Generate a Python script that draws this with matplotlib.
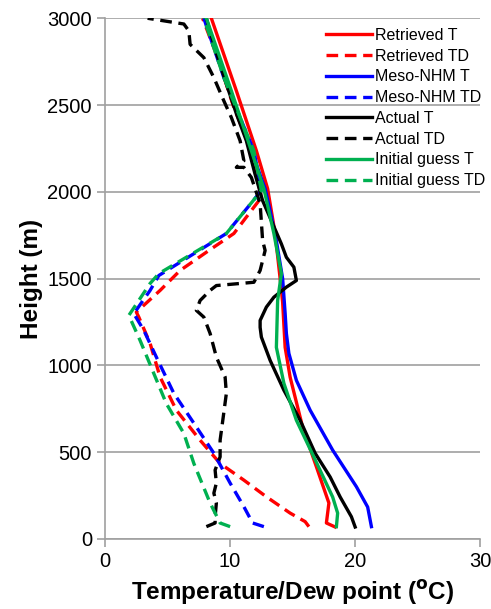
import matplotlib
matplotlib.use("Agg")
import matplotlib.pyplot as plt
import numpy as np

plt.rcParams['font.family'] = ['Liberation Sans', 'DejaVu Sans']

# heights (m) and temperatures (degC)
ret_t_h = [69, 92, 207, 416, 644, 932, 1104, 1364, 1500, 1760, 2018, 2237, 2582, 3000]
ret_t = [18.4, 17.7, 17.9, 16.9, 15.8, 14.8, 14.4, 14.2, 14.0, 13.6, 13.0, 12.1, 10.5, 8.5]

ret_td_h = [71, 100, 149, 243, 339, 435, 569, 742, 933, 1127, 1278, 1307, 1432, 1547, 1662, 1760, 1968, 2237, 2486, 2773, 3000]
ret_td = [16.3, 16.0, 14.8, 12.9, 11.1, 9.2, 7.6, 5.7, 4.4, 3.6, 2.7, 2.5, 4.4, 6.0, 8.3, 10.3, 12.5, 11.7, 10.3, 9.0, 7.8]

nhm_t_h = [71, 184, 301, 512, 742, 914, 1069, 1184, 1300, 1500, 1760, 2018, 2237, 2582, 3000]
nhm_t = [21.3, 21.0, 20.1, 18.2, 16.4, 15.3, 14.7, 14.5, 14.4, 14.2, 13.6, 12.8, 11.7, 10.0, 8.0]

nhm_td_h = [71, 92, 186, 322, 494, 667, 839, 1048, 1202, 1298, 1432, 1518, 1760, 2007, 2237, 2428, 2658, 3000]
nhm_td = [12.7, 11.8, 11.1, 10.0, 8.7, 7.1, 5.5, 4.1, 3.1, 2.3, 3.6, 4.3, 9.7, 12.5, 11.9, 10.8, 9.5, 7.9]

act_t_h = [69, 128, 242, 357, 494, 684, 857, 1029, 1163, 1219, 1259, 1336, 1393, 1451, 1489, 1566, 1623, 1700,
           1800, 1949, 2100, 2294, 2450, 2600, 2800, 3000]
act_t = [20.0, 19.7, 18.8, 18.0, 16.8, 15.6, 14.3, 13.2, 12.5, 12.4, 12.4, 12.9, 13.5, 14.5, 15.3, 15.1, 14.5, 14.1,
         13.5, 12.6, 12.0, 11.3, 10.5, 9.8, 8.9, 8.1]

act_td_h = [71, 92, 128, 207, 264, 322, 397, 416, 473, 569, 703, 839, 933, 1048, 1184, 1278, 1317, 1374, 1432, 1460,
            1479, 1547, 1662, 1719, 1932, 2083, 2141, 2141, 2179, 2294, 2428, 2524, 2658, 2773, 2850, 2927, 2967, 3000]
act_td = [8.1, 8.8, 8.8, 8.9, 8.7, 8.9, 8.8, 8.9, 9.2, 9.2, 9.45, 9.7, 9.6, 8.9, 8.4, 7.9, 7.3, 7.6, 8.4, 8.9,
          11.9, 12.4, 12.8, 12.6, 12.4, 11.7, 11.1, 10.5, 11.1, 10.8, 10.1, 9.5, 8.7, 7.9, 6.8, 6.7, 6.3, 3.4]

ini_t_h = [71, 149, 242, 472, 684, 897, 1104, 1374, 1529, 1760, 2018, 2237, 2582, 3000]
ini_t = [18.5, 18.6, 18.2, 16.7, 15.3, 14.3, 13.7, 13.8, 14.1, 13.5, 12.7, 11.7, 10.1, 8.1]

ini_td_h = [71, 92, 207, 435, 608, 780, 953, 1144, 1288, 1472, 1529, 1760, 2007, 2237, 2428, 2658, 3000]
ini_td = [10.0, 9.2, 8.4, 7.1, 6.3, 4.9, 3.9, 2.8, 1.9, 3.6, 4.3, 9.7, 12.5, 11.9, 10.8, 9.5, 7.9]

red = '#ff0000'
blue = '#0000ff'
green = '#00b050'

fig = plt.figure(figsize=(4.91, 6.09), dpi=100)
ax = fig.add_axes([0.214, 0.115, 0.764, 0.855])

lw = 2.4
dash = (0, (3.5, 2))
ax.plot(ret_t, ret_t_h, color=red, lw=lw, label='Retrieved T')
ax.plot(ret_td, ret_td_h, color=red, lw=lw, ls=dash, label='Retrieved TD')
ax.plot(nhm_t, nhm_t_h, color=blue, lw=lw, label='Meso-NHM T')
ax.plot(nhm_td, nhm_td_h, color=blue, lw=lw, ls=dash, label='Meso-NHM TD')
ax.plot(act_t, act_t_h, color='black', lw=lw, label='Actual T')
ax.plot(act_td, act_td_h, color='black', lw=lw, ls=dash, label='Actual TD')
ax.plot(ini_t, ini_t_h, color=green, lw=lw, label='Initial guess T')
ax.plot(ini_td, ini_td_h, color=green, lw=lw, ls=dash, label='Initial guess TD')

ax.set_xlim(0, 30)
ax.set_ylim(0, 3000)
ax.set_xticks([0, 10, 20, 30])
ax.set_yticks(np.arange(0, 3001, 500))
ax.yaxis.grid(True, color='#a0a0a0', lw=1.2)
ax.set_axisbelow(True)
for s in ['top', 'right']:
    ax.spines[s].set_visible(False)
for s in ['left', 'bottom']:
    ax.spines[s].set_color('#a0a0a0')
    ax.spines[s].set_linewidth(1.2)
ax.tick_params(colors='#a0a0a0', labelcolor='black', labelsize=14.5, length=6, width=1.2)

ax.set_xlabel(r'Temperature/Dew point ($\mathbf{^o}$C)', fontsize=17.5, fontweight='bold', labelpad=5)
ax.set_ylabel('Height (m)', fontsize=17.5, fontweight='bold', labelpad=3)

ax.legend(loc='upper right', bbox_to_anchor=(1.04, 1.0), frameon=False, fontsize=11.5,
          handlelength=2.9, handletextpad=0.2, labelspacing=0.36, borderaxespad=0.2)

fig.savefig('out.png', dpi=100)
